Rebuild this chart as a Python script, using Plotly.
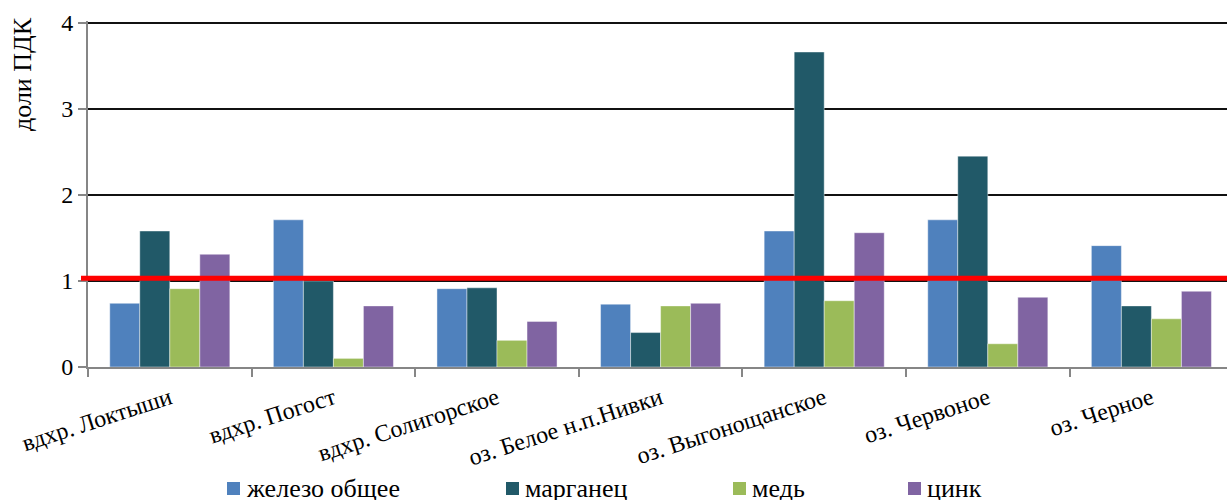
import plotly.graph_objects as go

categories = ["вдхр. Локтыши", "вдхр. Погост", "вдхр. Солигорское", "оз. Белое н.п.Нивки",
              "оз. Выгонощанское", "оз. Червоное", "оз. Черное"]
series_names = ["железо общее", "марганец", "медь", "цинк"]
iron = [0.74, 1.71, 0.91, 0.73, 1.58, 1.71, 1.41]
manganese = [1.58, 1.00, 0.92, 0.40, 3.66, 2.45, 0.71]
copper = [0.91, 0.10, 0.31, 0.71, 0.77, 0.27, 0.56]
zinc = [1.31, 0.71, 0.53, 0.74, 1.56, 0.81, 0.88]
pdk_level = 1.03
y_ticks = [0, 1, 2, 3, 4]

colors = ["#4F81BD", "#215968", "#9BBB59", "#8064A2"]
values = [iron, manganese, copper, zinc]

W, H = 1227, 500
L, R, T, B = 88, 0, 21, 133
PW, PH = W - L - R, H - T - B
cat_px = 163.6
Y_MAX = 4.02

FONT = "Liberation Serif, Times New Roman, serif"

fig = go.Figure()
for name, vals, col in zip(series_names, values, colors):
    fig.add_trace(go.Bar(
        x=categories, y=vals, name=name, marker_color=col,
        marker_line=dict(color="rgba(255,255,255,0.55)", width=0.8),
        showlegend=False,
    ))

# ПДК reference line
fig.add_shape(type="line", xref="paper", yref="y",
              x0=-7 / PW, x1=1, y0=pdk_level, y1=pdk_level,
              line=dict(color="#FF0000", width=5), layer="above")

def px(x):
    return (x - L) / PW

def py(y):
    return (T + PH - y) / PH

# Manual legend
legend_x = [227, 506, 733, 908]
for name, col, lx in zip(series_names, colors, legend_x):
    fig.add_shape(type="rect", xref="paper", yref="paper",
                  x0=px(lx), x1=px(lx + 13), y0=py(495), y1=py(482),
                  fillcolor=col, line=dict(width=0))
    fig.add_annotation(xref="paper", yref="paper", x=px(lx + 17), y=py(488),
                       text=name, showarrow=False, xanchor="left", yanchor="middle",
                       font=dict(family=FONT, size=26, color="black"))

# y-axis title
fig.add_annotation(xref="paper", yref="paper", x=px(23), y=py(74),
                   text="доли ПДК", textangle=-90, showarrow=False,
                   xanchor="center", yanchor="middle",
                   font=dict(family=FONT, size=26, color="black"))

fig.update_layout(
    width=W, height=H,
    margin=dict(l=L, r=R, t=T, b=B, pad=0, autoexpand=False),
    paper_bgcolor="white", plot_bgcolor="white",
    barmode="group", bargap=0.266, bargroupgap=0,
    font=dict(family=FONT, color="black"),
    showlegend=False,
)
fig.update_xaxes(
    type="category", range=[-0.5, -0.5 + PW / cat_px], automargin=False,
    showline=True, linecolor="#868686", linewidth=2,
    ticks="outside", tickson="boundaries", ticklen=8, tickcolor="#868686", tickwidth=2,
    tickangle=-18, tickfont=dict(family=FONT, size=24, color="black"),
    ticklabelstandoff=6,
    showgrid=False,
)
fig.update_yaxes(
    range=[0, Y_MAX], tickvals=y_ticks, ticktext=[str(v) for v in y_ticks],
    automargin=False,
    showgrid=True, gridcolor="#111111", gridwidth=2,
    zeroline=False,
    showline=True, linecolor="#868686", linewidth=2,
    ticks="outside", ticklen=8, tickcolor="#868686", tickwidth=2,
    tickfont=dict(family=FONT, size=24, color="black"),
)

fig.write_html("out.html", config={"displayModeBar": False},
               post_script="document.body.style.margin='0';document.body.style.overflow='hidden';")
